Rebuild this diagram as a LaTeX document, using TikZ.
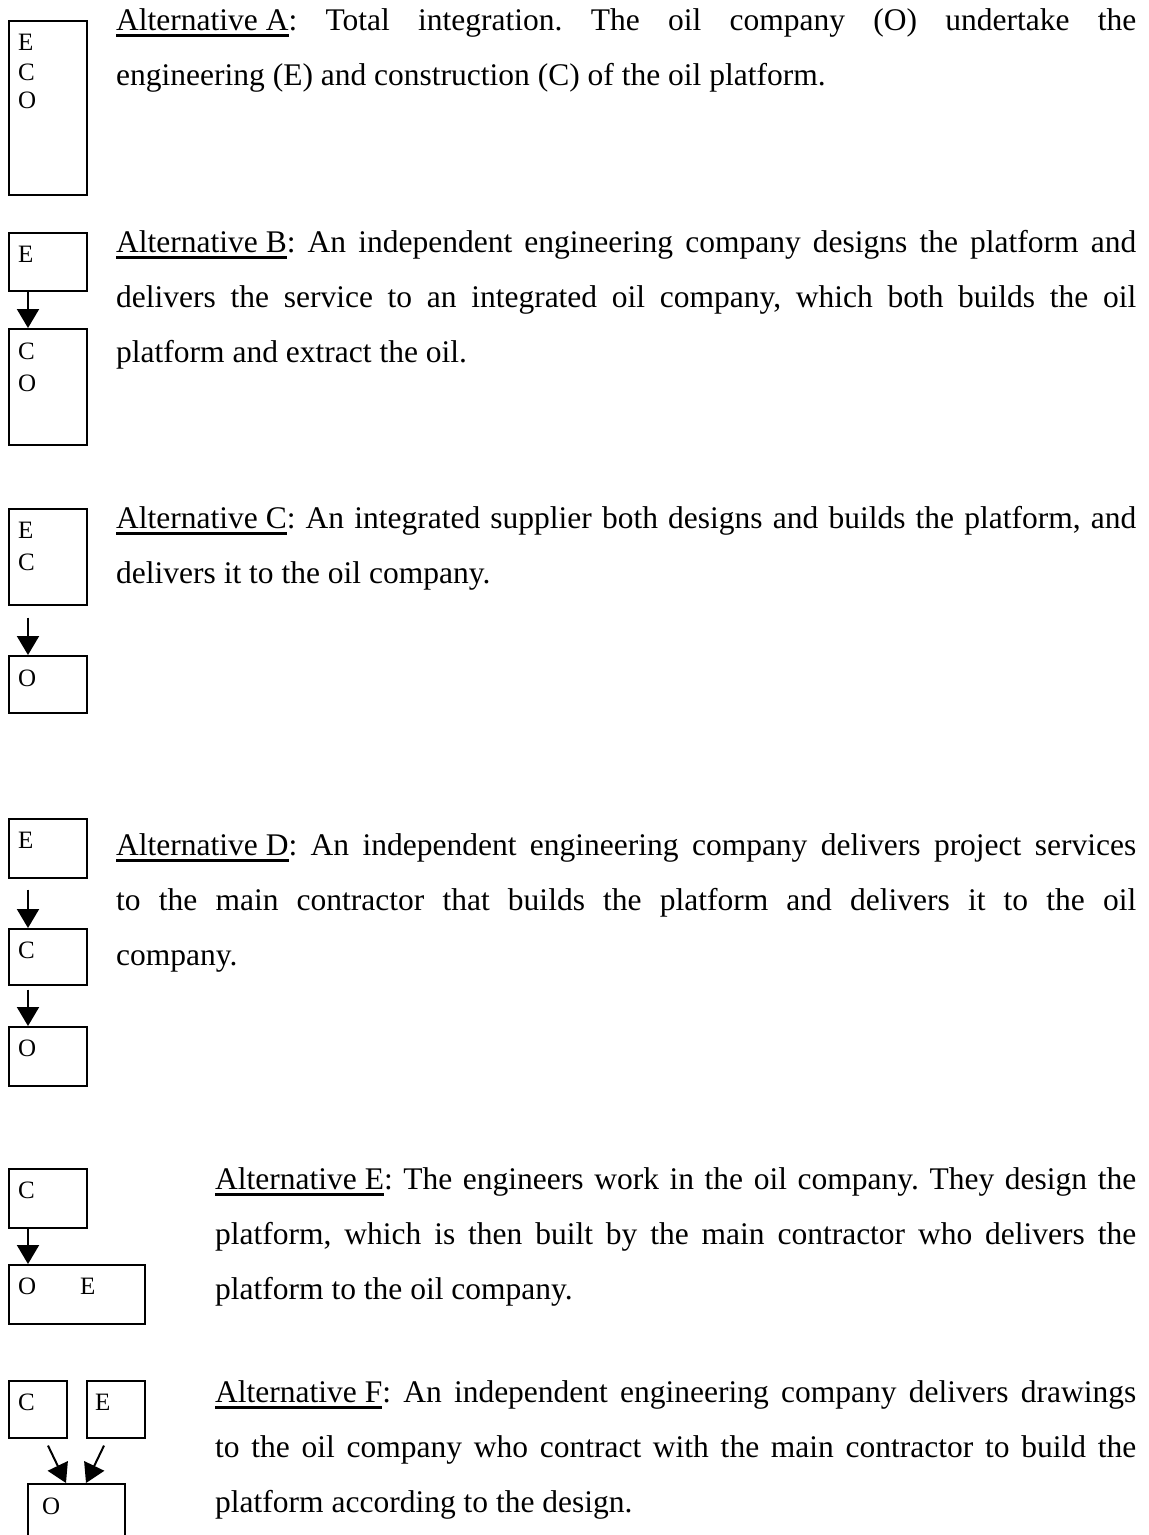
\documentclass[tikz,border=0pt]{standalone}
\usepackage{fontspec}
\setmainfont{Liberation Serif}
\usetikzlibrary{arrows.meta}
\newcommand\myul[1]{\setbox0\hbox{#1}\rlap{\rule[-7pt]{\wd0}{3pt}}\box0}
\tikzset{
  bx/.style={draw, line width=1.6pt, inner sep=0pt, anchor=north west, minimum width=78pt},
  lbl/.style={anchor=base west, inner sep=0pt, font=\fontsize{25}{32}\selectfont},
  para/.style={anchor=base west, inner sep=0pt, text width=1020pt, align=justify,
    font=\fontsize{31.5}{55}\selectfont\frenchspacing},
  arr/.style={line width=2pt, -{Triangle[width=22pt,length=19pt]}}
}
\begin{document}
\begin{tikzpicture}[x=1pt,y=-1pt]
\useasboundingbox (0,0) rectangle (1149,1535);
% A
\node[bx, minimum height=174pt] (aECO) at (8,20) {};
\node[lbl] (laE) at (18,50) {E};
\node[lbl] (laC) at (18,80) {C};
\node[lbl] (laO) at (18,108) {O};
% B
\node[bx, minimum height=58pt] (bE) at (8,232) {};
\node[lbl] (lbE) at (18,262) {E};
\node[bx, minimum height=116pt] (bCO) at (8,328) {};
\node[lbl] (lbC) at (18,359) {C};
\node[lbl] (lbO) at (18,391) {O};
\draw[arr] ([xshift=20pt]bE.south west) -- ([xshift=20pt]bCO.north west);
% C
\node[bx, minimum height=96pt] (cEC) at (8,508) {};
\node[lbl] (lcE) at (18,538) {E};
\node[lbl] (lcC) at (18,570) {C};
\node[bx, minimum height=57pt] (cO) at (8,655) {};
\node[lbl] (lcO) at (18,686) {O};
\draw[arr] ([xshift=20pt,yshift=-12pt]cEC.south west) -- ([xshift=20pt]cO.north west);
% D
\node[bx, minimum height=59pt] (dE) at (8,818) {};
\node[lbl] (ldE) at (18,848) {E};
\node[bx, minimum height=56pt] (dC) at (8,928) {};
\node[lbl] (ldC) at (18,958) {C};
\node[bx, minimum height=59pt] (dO) at (8,1026) {};
\node[lbl] (ldO) at (18,1056) {O};
\draw[arr] ([xshift=20pt,yshift=-11pt]dE.south west) -- ([xshift=20pt]dC.north west);
\draw[arr] ([xshift=20pt,yshift=-4pt]dC.south west) -- ([xshift=20pt]dO.north west);
% E
\node[bx, minimum height=59pt] (eC) at (8,1168) {};
\node[lbl] (leC) at (18,1198) {C};
\node[bx, minimum height=59pt, minimum width=136pt] (eOE) at (8,1264) {};
\node[lbl] (leO) at (18,1294) {O};
\node[lbl] (leE) at (80,1294) {E};
\draw[arr] ([xshift=20pt]eC.south west) -- ([xshift=20pt]eOE.north west);
% F
\node[bx, minimum height=57pt, minimum width=58pt] (fC) at (8,1380) {};
\node[lbl] (lfC) at (18,1410) {C};
\node[bx, minimum height=57pt, minimum width=58pt] (fE) at (86,1380) {};
\node[lbl] (lfE) at (95,1410) {E};
\node[bx, minimum height=62pt, minimum width=97pt] (fO) at (27,1483) {};
\node[lbl] (lfO) at (42,1514) {O};
\draw[arr] ([xshift=40pt,yshift=-7pt]fC.south west) -- ([xshift=39pt]fO.north west);
\draw[arr] ([xshift=18pt,yshift=-7pt]fE.south west) -- ([xshift=59pt]fO.north west);
% texts
\node[para] (tA) at (116,30) {\myul{Alternative A}: Total integration. The oil company (O) undertake the\linebreak engineering (E) and construction (C) of the oil platform.};
\node[para] (tB) at (116,252) {\myul{Alternative B}: An independent engineering company designs the platform and\linebreak delivers the service to an integrated oil company, which both builds the oil\linebreak platform and extract the oil.};
\node[para] (tC) at (116,528) {\myul{Alternative C}: An integrated supplier both designs and builds the platform, and\linebreak delivers it to the oil company.};
\node[para] (tD) at (116,855) {\myul{Alternative D}: An independent engineering company delivers project services\linebreak to the main contractor that builds the platform and delivers it to the oil\linebreak company.};
\node[para, text width=921pt] (tE) at (215,1189) {\myul{Alternative E}: The engineers work in the oil company. They design the\linebreak platform, which is then built by the main contractor who delivers the\linebreak platform to the oil company.};
\node[para, text width=921pt] (tF) at (215,1402) {\myul{Alternative F}: An independent engineering company delivers drawings\linebreak to the oil company who contract with the main contractor to build the\linebreak platform according to the design.};
\end{tikzpicture}
\end{document}
